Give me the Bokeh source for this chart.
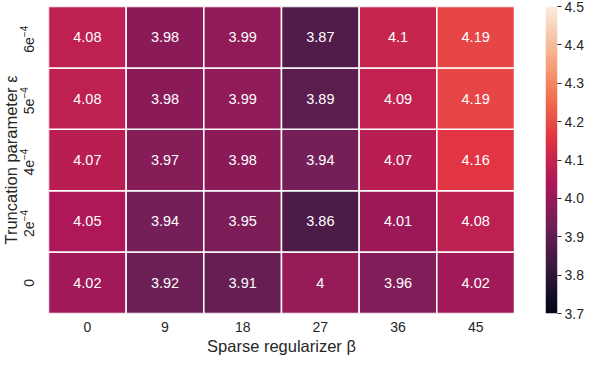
import math
import numpy as np
from bokeh.plotting import figure
from bokeh.layouts import row
from bokeh.models import (ColumnDataSource, LinearColorMapper, FixedTicker,
                          PrintfTickFormatter, Range1d)
from bokeh.core.properties import value
from bokeh.embed import file_html
from bokeh.resources import INLINE

# ---- data ----
betas = ["0", "9", "18", "27", "36", "45"]
epsilons = ["0", "2e-4", "4e-4", "5e-4", "6e-4"]  # bottom -> top
eps_base = ["0", "2e", "4e", "5e", "6e"]
eps_sup = ["", "\u22124", "\u22124", "\u22124", "\u22124"]
vals_eps0 = [4.02, 3.92, 3.91, 4.00, 3.96, 4.02]
vals_eps2 = [4.05, 3.94, 3.95, 3.86, 4.01, 4.08]
vals_eps4 = [4.07, 3.97, 3.98, 3.94, 4.07, 4.16]
vals_eps5 = [4.08, 3.98, 3.99, 3.89, 4.09, 4.19]
vals_eps6 = [4.08, 3.98, 3.99, 3.87, 4.10, 4.19]
rows = [vals_eps0, vals_eps2, vals_eps4, vals_eps5, vals_eps6]
cbar_ticks = [3.7, 3.8, 3.9, 4.0, 4.1, 4.2, 4.3, 4.4, 4.5]
vmin, vmax = 3.7, 4.5

# ---- rocket-like palette ----
anchors = [(0.0, "#03051a"), (1/7, "#35193e"), (2/7, "#701f57"), (3/7, "#ad1759"),
           (4/7, "#e13342"), (5/7, "#f37651"), (6/7, "#f6b48f"), (1.0, "#faebdd")]
def hex2rgb(h):
    return tuple(int(h[i:i+2], 16) for i in (1, 3, 5))
palette = []
N = 256
for i in range(N):
    t = i / (N - 1)
    for j in range(len(anchors) - 1):
        t0, c0_ = anchors[j]
        t1, c1_ = anchors[j + 1]
        if t0 <= t <= t1:
            f = (t - t0) / (t1 - t0)
            a, b = hex2rgb(c0_), hex2rgb(c1_)
            rgb = [round(a[k] + (b[k] - a[k]) * f) for k in range(3)]
            palette.append("#%02x%02x%02x" % tuple(rgb))
            break

xs, ys, vs, labels = [], [], [], []
for eps, rw in zip(epsilons, rows):
    for b, v in zip(betas, rw):
        xs.append(b); ys.append(eps); vs.append(v); labels.append("{:g}".format(v))
src = ColumnDataSource(dict(x=xs, y=ys, v=vs, label=labels))

mapper = LinearColorMapper(palette=palette, low=vmin, high=vmax)

FONT = "Liberation Sans"
TXT = "#262626"
H = 360
TOP = 6
BOTTOM = 47
W_LEFT = 48
W_MAIN = 466
W_CB = 72

# ---- left strip: y tick labels + y axis label ----
lf = figure(width=W_LEFT, height=H, x_range=Range1d(0, W_LEFT), y_range=epsilons,
            output_backend="svg", toolbar_location=None,
            min_border_left=0, min_border_right=0, min_border_top=TOP, min_border_bottom=BOTTOM)
lf.outline_line_color = None
lf.grid.visible = False
lf.xaxis.visible = False
lf.yaxis.visible = False
lx_base = [28] * len(epsilons)
lx_sup = [23.5] * len(epsilons)
common = dict(angle=math.pi / 2, text_font=value(FONT), text_color=TXT, text_baseline="middle")
lf.text(x=lx_base[:1], y=epsilons[:1], text=eps_base[:1], text_align="center",
        text_font_size="14px", **common)
lf.text(x=lx_base[1:], y=epsilons[1:], text=eps_base[1:], text_align="right",
        text_font_size="14px", **common)
lf.text(x=lx_sup[1:], y=epsilons[1:], text=eps_sup[1:], text_align="left",
        text_font_size="10px", **common)
lf.text(x=[10], y=[epsilons[2]], text=["Truncation parameter \u03b5"], text_align="center",
        text_font_size="16.5px", **common)

# ---- main heatmap ----
p = figure(width=W_MAIN, height=H, x_range=betas, y_range=lf.y_range,
           output_backend="svg", toolbar_location=None,
           min_border_left=0, min_border_top=TOP, min_border_right=0, min_border_bottom=BOTTOM)
p.outline_line_color = None
p.grid.visible = False
p.yaxis.visible = False

p.rect(x="x", y="y", width=1, height=1, source=src,
       fill_color={"field": "v", "transform": mapper}, line_color="white", line_width=1.5)
p.text(x="x", y="y", text="label", source=src, text_align="center", text_baseline="middle",
       text_color="white", text_font=value(FONT), text_font_size="14.5px")

ax = p.xaxis[0]
ax.axis_line_color = None
ax.major_tick_line_color = None
ax.minor_tick_line_color = None
ax.major_tick_out = 0
ax.major_tick_in = 0
ax.major_label_text_font = FONT
ax.major_label_text_font_size = "14px"
ax.major_label_text_color = TXT
ax.axis_label_text_font = FONT
ax.axis_label_text_font_size = "16.5px"
ax.axis_label_text_font_style = "normal"
ax.axis_label_text_color = TXT
ax.major_label_standoff = 8
ax.axis_label_standoff = 2
ax.axis_label = "Sparse regularizer \u03b2"

# ---- colorbar ----
cb = figure(width=W_CB, height=H, x_range=Range1d(0, 1), y_range=Range1d(vmin, vmax),
            output_backend="svg", toolbar_location=None, y_axis_location="right",
            min_border_left=31, min_border_right=27, min_border_top=TOP, min_border_bottom=BOTTOM)
cb.outline_line_color = None
cb.grid.visible = False
cb.xaxis.visible = False
grad = np.linspace(vmin, vmax, 400).reshape(-1, 1)
cb.image(image=[grad], x=0, y=vmin, dw=1, dh=vmax - vmin, color_mapper=mapper)
yax = cb.yaxis[0]
yax.ticker = FixedTicker(ticks=cbar_ticks)
yax.formatter = PrintfTickFormatter(format="%.1f")
yax.axis_line_color = None
yax.minor_tick_line_color = None
yax.major_tick_line_color = TXT
yax.major_tick_in = 0
yax.major_tick_out = 4
yax.major_label_standoff = 3
yax.major_label_text_font = FONT
yax.major_label_text_font_size = "14px"
yax.major_label_text_color = TXT

layout = row(lf, p, cb)
open("out.html", "w").write(file_html(layout, INLINE))
